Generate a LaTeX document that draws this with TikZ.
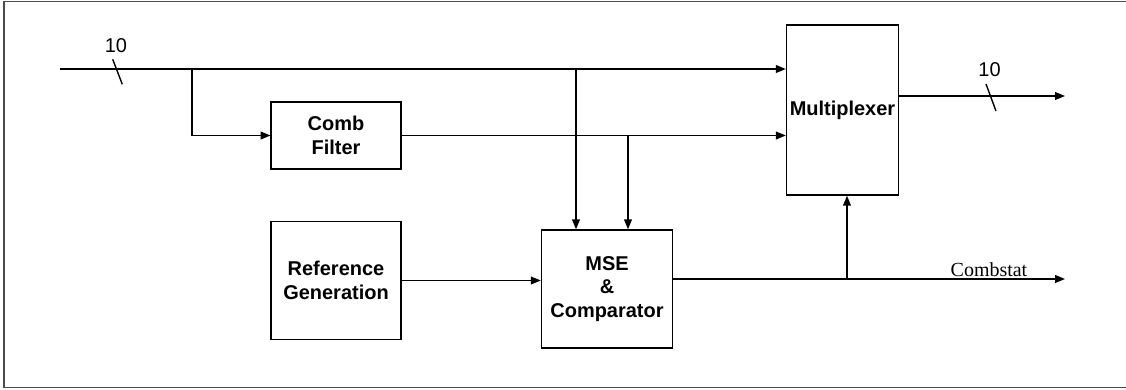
\documentclass[tikz,border=0pt]{standalone}
\usepackage{fontspec}
\setmainfont{Liberation Sans}
\newfontfamily\timesfont{Liberation Serif}
\usetikzlibrary{arrows.meta}
\begin{document}
\begin{tikzpicture}[x=0.025cm,y=-0.025cm,line width=1pt,
        >={Triangle[length=7pt,width=5.5pt]},
        blk/.style={draw,align=center,font=\fontsize{14.2}{17}\selectfont\bfseries,inner sep=0pt},
        lbl/.style={font=\fontsize{14.2}{17}\selectfont,inner sep=0pt}]
        \useasboundingbox (0,0) rectangle (1126,389);
        \draw[gray!60!black,line width=1.2pt] (1140,1.5) -- (4,1.5) -- (4,387.5) -- (1140,387.5);
        \node[blk,minimum width=3.24cm,minimum height=1.675cm] (comb) at (336,135.5) {Comb\\Filter};
        \node[blk,minimum width=3.24cm,minimum height=2.95cm] (ref) at (336,280.5) {Reference\\Generation};
        \node[blk,minimum width=3.275cm,minimum height=2.95cm] (mse) at (607,289) {MSE\\\&\\Comparator};
        \node[blk,minimum width=2.8cm,minimum height=4.25cm] (mux) at (842.5,110) {Multiplexer};
        \coordinate (in) at (60,69);
        \coordinate (br1) at (192,69);
        \coordinate (br2) at (576,69);
        \coordinate (br3) at (628,135.5);
        \coordinate (br4) at (847,279);
        \coordinate (out) at (1065,96);
        \coordinate (stat) at (1065,279);
        % input bus
        \draw[->] (in) -- (in -| mux.west);
        \draw (112.7,59.3) -- (122.3,84.3);
        \node[lbl] (n1) at (116,45.5) {10};
        \draw[->] (br1) |- (comb.west);
        \draw[->] (comb.east) -- (comb.east -| mux.west);
        \draw[->] (br2) -- (br2 |- mse.north);
        \draw[->] (br3) -- (br3 |- mse.north);
        \draw[->] (ref.east) -- (ref.east -| mse.west);
        % outputs
        \draw[->] (out -| mux.east) -- (out);
        \draw (986,84) -- (996,111);
        \node[lbl] (n2) at (989.5,70) {10};
        \draw[->] (stat -| mse.east) -- (stat);
        \draw[->] (br4) -- (br4 |- mux.south);
        \node[lbl,font=\fontsize{14.2}{17}\selectfont\timesfont,anchor=base west] (cs) at (950,276.5) {Combstat};
\end{tikzpicture}
\end{document}
